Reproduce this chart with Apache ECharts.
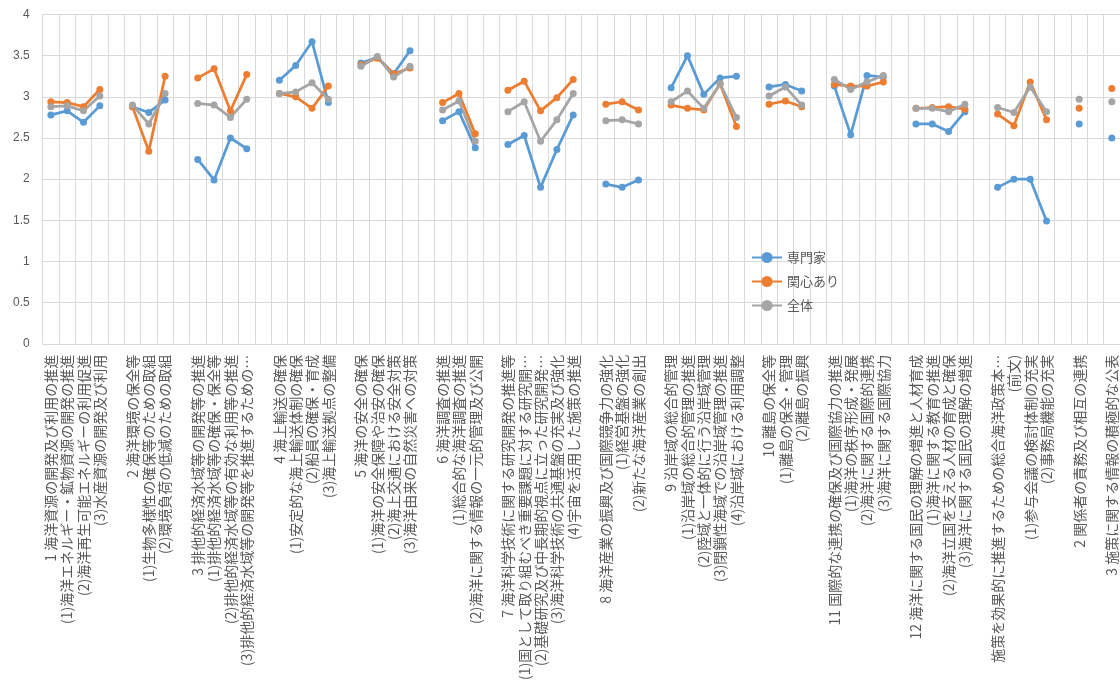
<!DOCTYPE html>
<html>
<head>
<meta charset="utf-8">
<script src="https://cdn.jsdelivr.net/npm/echarts@6/dist/echarts.min.js"></script>
<style>
  html, body { margin: 0; padding: 0; background: #ffffff; }
  #chart { width: 1120px; height: 683px; }
</style>
</head>
<body>
<div id="chart"></div>
<script>
// Item labels; empty strings are spacer slots between the sections
const categories = [
  '1 海洋資源の開発及び利用の推進',
  '(1)海洋エネルギー・鉱物資源の開発の推進',
  '(2)海洋再生可能エネルギーの利用促進',
  '(3)水産資源の開発及び利用',
  '',
  '2 海洋環境の保全等',
  '(1)生物多様性の確保等のための取組',
  '(2)環境負荷の低減のための取組',
  '',
  '3 排他的経済水域等の開発等の推進',
  '(1)排他的経済水域等の確保・保全等',
  '(2)排他的経済水域等の有効な利用等の推進',
  '(3)排他的経済水域等の開発等を推進するための…',
  '',
  '4 海上輸送の確保',
  '(1)安定的な海上輸送体制の確保',
  '(2)船員の確保・育成',
  '(3)海上輸送拠点の整備',
  '',
  '5 海洋の安全の確保',
  '(1)海洋の安全保障や治安の確保',
  '(2)海上交通における安全対策',
  '(3)海洋由来の自然災害への対策',
  '',
  '6 海洋調査の推進',
  '(1)総合的な海洋調査の推進',
  '(2)海洋に関する情報の一元的管理及び公開',
  '',
  '7 海洋科学技術に関する研究開発の推進等',
  '(1)国として取り組むべき重要課題に対する研究開…',
  '(2)基礎研究及び中長期的視点に立った研究開発…',
  '(3)海洋科学技術の共通基盤の充実及び強化',
  '(4)宇宙を活用した施策の推進',
  '',
  '8 海洋産業の振興及び国際競争力の強化',
  '(1)経営基盤の強化',
  '(2)新たな海洋産業の創出',
  '',
  '9 沿岸域の総合的管理',
  '(1)沿岸域の総合的管理の推進',
  '(2)陸域と一体的に行う沿岸域管理',
  '(3)閉鎖性海域での沿岸域管理の推進',
  '(4)沿岸域における利用調整',
  '',
  '10 離島の保全等',
  '(1)離島の保全・管理',
  '(2)離島の振興',
  '',
  '11 国際的な連携の確保及び国際協力の推進',
  '(1)海洋の秩序形成・発展',
  '(2)海洋に関する国際的連携',
  '(3)海洋に関する国際協力',
  '',
  '12 海洋に関する国民の理解の増進と人材育成',
  '(1)海洋に関する教育の推進',
  '(2)海洋立国を支える人材の育成と確保',
  '(3)海洋に関する国民の理解の増進',
  '',
  '施策を効果的に推進するための総合海洋政策本…',
  '(前文)',
  '(1)参与会議の検討体制の充実',
  '(2)事務局機能の充実',
  '',
  '2 関係者の責務及び相互の連携',
  '',
  '3 施策に関する情報の積極的な公表'
];

const seriesNames = ['専門家', '関心あり', '全体'];

const expert = [
  2.78, 2.83, 2.69, 2.89, null,
  2.88, 2.81, 2.96, null,
  2.24, 1.99, 2.50, 2.37, null,
  3.20, 3.38, 3.67, 2.93, null,
  3.41, 3.48, 3.28, 3.56, null,
  2.71, 2.82, 2.38, null,
  2.42, 2.53, 1.90, 2.36, 2.78, null,
  1.94, 1.90, 1.99, null,
  3.11, 3.50, 3.03, 3.23, 3.25, null,
  3.12, 3.15, 3.07, null,
  3.13, 2.54, 3.26, 3.24, null,
  2.67, 2.67, 2.58, 2.82, null,
  1.90, 2.00, 2.00, 1.49, null,
  2.67, null,
  2.50
];

const interested = [
  2.94, 2.93, 2.88, 3.09, null,
  2.88, 2.34, 3.25, null,
  3.23, 3.34, 2.83, 3.27, null,
  3.04, 3.00, 2.86, 3.13, null,
  3.39, 3.47, 3.28, 3.35, null,
  2.93, 3.04, 2.55, null,
  3.08, 3.19, 2.83, 2.99, 3.21, null,
  2.91, 2.94, 2.84, null,
  2.90, 2.86, 2.84, 3.16, 2.64, null,
  2.91, 2.95, 2.88, null,
  3.15, 3.13, 3.13, 3.18, null,
  2.86, 2.87, 2.88, 2.85, null,
  2.79, 2.65, 3.18, 2.72, null,
  2.86, null,
  3.10
];

const overall = [
  2.88, 2.89, 2.83, 3.01, null,
  2.90, 2.67, 3.04, null,
  2.92, 2.90, 2.75, 2.97, null,
  3.04, 3.06, 3.17, 2.97, null,
  3.37, 3.49, 3.24, 3.37, null,
  2.84, 2.95, 2.46, null,
  2.82, 2.94, 2.46, 2.72, 3.04, null,
  2.71, 2.72, 2.67, null,
  2.94, 3.07, 2.86, 3.16, 2.75, null,
  3.01, 3.12, 2.90, null,
  3.21, 3.09, 3.18, 3.26, null,
  2.86, 2.86, 2.82, 2.91, null,
  2.87, 2.81, 3.12, 2.82, null,
  2.97, null,
  2.94
];

const yTicks = { min: 0, max: 4, interval: 0.5 };

const palette = ['#5B9BD5', '#ED7D31', '#A5A5A5'];
const textColor = '#595959';
const gridColor = '#D9D9D9';
const fontFamily = '"Noto Sans CJK JP", "Noto Sans", sans-serif';

function lineSeries(name, values, color) {
  return {
    name: name,
    type: 'line',
    data: values,
    connectNulls: false,
    showSymbol: true,
    showAllSymbol: true,
    symbol: 'circle',
    symbolSize: 7,
    itemStyle: { color: color },
    lineStyle: { color: color, width: 2.75 },
    emphasis: { disabled: true }
  };
}

const chart = echarts.init(document.getElementById('chart'), null, { renderer: 'canvas' });

chart.setOption({
  animation: false,
  backgroundColor: '#ffffff',
  textStyle: { fontFamily: fontFamily },
  grid: { left: 42.7, top: 14.5, width: 1079.4, height: 359, containLabel: false },
  legend: {
    orient: 'vertical',
    left: 746,
    top: 246,
    itemWidth: 30,
    itemHeight: 14,
    itemGap: 11,
    data: seriesNames,
    textStyle: { color: textColor, fontSize: 13, fontFamily: fontFamily }
  },
  xAxis: {
    type: 'category',
    data: categories,
    boundaryGap: true,
    axisLine: { show: true, lineStyle: { color: gridColor, width: 1 } },
    axisTick: { show: false },
    splitLine: { show: true, interval: 0, lineStyle: { color: gridColor, width: 1 } },
    axisLabel: {
      interval: 0,
      rotate: 90,
      margin: 11,
      color: textColor,
      fontSize: 14,
      fontFamily: fontFamily
    }
  },
  yAxis: {
    type: 'value',
    min: yTicks.min,
    max: yTicks.max,
    interval: yTicks.interval,
    axisLine: { show: false },
    axisTick: { show: false },
    splitLine: { show: true, lineStyle: { color: gridColor, width: 1 } },
    axisLabel: {
      color: textColor,
      fontSize: 12,
      margin: 13,
      fontFamily: '"Liberation Sans", "Noto Sans", sans-serif'
    }
  },
  series: [
    lineSeries(seriesNames[0], expert, palette[0]),
    lineSeries(seriesNames[1], interested, palette[1]),
    lineSeries(seriesNames[2], overall, palette[2])
  ]
});
</script>
</body>
</html>
